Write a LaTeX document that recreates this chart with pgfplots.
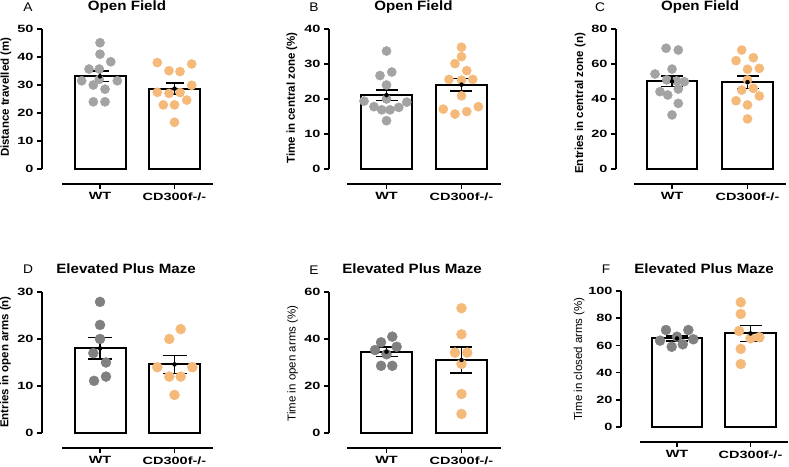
\documentclass[border=0pt]{standalone}
\usepackage{fontspec}
\setmainfont{Liberation Sans}
\newfontfamily\widefont{Liberation Sans}[FakeStretch=1.38]
\newfontfamily\titlefont{Liberation Sans}[FakeStretch=1.12]
\newfontfamily\letterfont{Liberation Sans}[FakeStretch=1.1]
\usepackage{pgfplots}
\pgfplotsset{compat=1.18}
\definecolor{wtgray}{RGB}{163,163,163}
\definecolor{wtdark}{RGB}{128,128,128}
\definecolor{koorange}{RGB}{245,186,122}
\pgfplotsset{
  every axis title shift=0pt,
  panel/.style={
    scale only axis, clip=false, anchor=south west,
    axis x line*=bottom, axis y line*=left,
    axis line style={-, line width=1.6pt, black},
    tick align=outside,
    major tick length=5pt,
    tick style={line width=1.6pt, black},
    xtick={0,1}, xticklabels={WT,CD300f-/-},
    /pgf/number format/assume math mode=true,
    ticklabel style={font=\widefont\bfseries\fontsize{10.5}{12}\selectfont},
    title style={font=\titlefont\bfseries\fontsize{13.5}{15}\selectfont, anchor=center},
    ylabel style={font=\bfseries\fontsize{11.5}{13}\selectfont, anchor=center},
  },
  bars/.style={ybar, bar width=#1, fill=white, draw=black, line width=2pt},
  errs/.style={only marks, mark=none, black, error bars/.cd, y dir=both, y explicit,
    error bar style={line width=1.5pt, black},
    error mark options={rotate=90, line width=1.5pt, mark size=#1, black}},
}
\begin{document}
\begin{tikzpicture}
\useasboundingbox (0,0) rectangle (789pt,466pt);
% ---------- A
\begin{axis}[panel, at={(42pt,282pt)}, width=170.5pt, height=155pt,
  xmin=-0.779, xmax=1.51, ymin=-5.357, ymax=50, ytick={0,10,...,50},
  x axis line style={shorten <=20pt}, y axis line style={shorten <=15pt},
  title={Open Field}, title style={at={(rel axis cs:0.4985,1.145)}},
  ylabel={Distance travelled (m)}, ylabel style={at={(rel axis cs:-0.211,0.56)}}]
\addplot[bars=0.685] coordinates {(0,33.1) (1,28.7)};
\addplot[only marks, mark=*, mark size=4.6pt, color=wtgray] coordinates {
(0,45.1) (0,41.0) (0.144,38.3) (-0.148,35.7) (-0.01,35.7) (-0.246,31.5)
(-0.01,32.0) (0.232,31.5) (-0.09,30.0) (0.067,28.5) (-0.09,24.0) (0.067,24.0)};
\addplot[only marks, mark=*, mark size=4.6pt, color=koorange] coordinates {
(0.769,38.0) (0.926,35.1) (1.074,34.8) (1.231,37.5) (1.231,29.9) (0.769,27.4)
(0.926,27.0) (1.074,27.3) (1.164,24.6) (0.850,22.9) (1.0,22.9) (1.0,16.7)};
\addplot[errs=9pt] coordinates {(0,33.1) +- (0,1.9) (1,28.7) +- (0,2.0)};
\end{axis}
% ---------- B
\begin{axis}[panel, at={(329pt,282pt)}, width=172pt, height=155pt,
  xmin=-0.767, xmax=1.527, ymin=-4.286, ymax=40, ytick={0,10,...,40},
  x axis line style={shorten <=18pt}, y axis line style={shorten <=15pt},
  title={Open Field}, title style={at={(rel axis cs:0.491,1.145)}},
  ylabel={Time in central zone (\%)}, ylabel style={at={(rel axis cs:-0.215,0.555)}}]
\addplot[bars=0.68] coordinates {(0,21.1) (1,24.1)};
\addplot[only marks, mark=*, mark size=4.6pt, color=wtgray] coordinates {
(0,33.7) (-0.087,26.7) (0.07,27.7) (0,24.0) (0,20.0) (-0.3,19.4)
(0.27,19.1) (-0.167,17.8) (-0.064,16.9) (0.047,16.9) (0.163,17.6) (0,13.8)};
\addplot[only marks, mark=*, mark size=4.6pt, color=koorange] coordinates {
(1,34.8) (1,32.1) (0.913,30.1) (1.07,28.1) (0.833,25.6) (1,25.4)
(1.15,25.6) (1,20.9) (0.757,17.1) (0.913,15.7) (1.07,16.4) (1.224,17.8)};
\addplot[errs=11pt] coordinates {(0,21.1) +- (0,1.5) (1,24.1) +- (0,1.8)};
\end{axis}
% ---------- C
\begin{axis}[panel, at={(616pt,282pt)}, width=169.5pt, height=155pt,
  xmin=-0.742, xmax=1.503, ymin=-8.571, ymax=80, ytick={0,20,...,80},
  x axis line style={shorten <=18pt}, y axis line style={shorten <=15pt},
  title={Open Field}, title style={at={(rel axis cs:0.496,1.145)}},
  ylabel={Entries in central zone (n)}, ylabel style={at={(rel axis cs:-0.212,0.52)}}]
\addplot[bars=0.67] coordinates {(0,50.1) (1,49.6)};
\addplot[only marks, mark=*, mark size=4.6pt, color=wtgray] coordinates {
(-0.079,69.0) (0.083,68.0) (-0.225,54.3) (0,57.1) (-0.07,50.9) (0.06,50.3)
(0.163,49.9) (0.083,45.7) (-0.159,44.2) (-0.057,42.3) (0.083,37.5) (0,30.9)};
\addplot[only marks, mark=*, mark size=4.6pt, color=koorange] coordinates {
(0.923,68.0) (0.848,61.9) (1.077,63.6) (1,57.0) (1.156,57.5) (1,50.9)
(0.923,45.1) (1.077,46.1) (1.156,41.7) (0.848,39.0) (1,36.6) (1,28.6)};
\addplot[errs=11pt] coordinates {(0,50.1) +- (0,3.1) (1,49.6) +- (0,3.5)};
\end{axis}
% ---------- D
\begin{axis}[panel, at={(42pt,18pt)}, width=170.5pt, height=156pt,
  xmin=-0.779, xmax=1.51, ymin=-3.191, ymax=30, ytick={0,10,...,30},
  x axis line style={shorten <=20pt}, y axis line style={shorten <=15pt},
  title={Elevated Plus Maze}, title style={at={(rel axis cs:0.493,1.147)}},
  ylabel={Entries in open arms (n)}, ylabel style={at={(rel axis cs:-0.214,0.551)}}]
\addplot[bars=0.685] coordinates {(0,18.0) (1,14.6)};
\addplot[only marks, mark=*, mark size=5pt, color=wtdark] coordinates {
(0,27.9) (0,23.0) (0,20.0) (-0.09,17.0) (0.08,15.0) (0.08,12.0) (-0.08,11.1)};
\addplot[only marks, mark=*, mark size=5pt, color=koorange] coordinates {
(1.083,22.1) (0.93,20.0) (0.769,14.0) (1.239,14.0) (0.93,12.0) (1.083,12.0) (1,8.1)};
\addplot[errs=12pt] coordinates {(0,18.0) +- (0,2.3) (1,14.6) +- (0,1.9)};
\end{axis}
% ---------- E
\begin{axis}[panel, at={(329pt,18pt)}, width=172pt, height=156pt,
  xmin=-0.767, xmax=1.527, ymin=-6.383, ymax=60, ytick={0,20,...,60},
  x axis line style={shorten <=18pt}, y axis line style={shorten <=15pt},
  title={Elevated Plus Maze}, title style={at={(rel axis cs:0.483,1.147)}},
  ylabel={Time in open arms (\%)}, ylabel style={font=\fontsize{11.5}{13}\selectfont, at={(rel axis cs:-0.212,0.542)}}]
\addplot[bars=0.68] coordinates {(0,34.6) (1,31.1)};
\addplot[only marks, mark=*, mark size=5pt, color=wtdark] coordinates {
(0.077,41.0) (-0.073,38.6) (0.136,36.7) (-0.153,35.3) (0,33.5) (-0.073,28.6) (0.077,28.6)};
\addplot[only marks, mark=*, mark size=5pt, color=koorange] coordinates {
(1,53.1) (1,42.0) (0.913,34.2) (1.077,34.2) (1,29.4) (1,16.6) (1,8.1)};
\addplot[errs=11pt] coordinates {(0,34.6) +- (0,2.0) (1,31.1) +- (0,5.6)};
\end{axis}
% ---------- F
\begin{axis}[panel, at={(621pt,24pt)}, width=166.5pt, height=151pt,
  xmin=-0.762, xmax=1.503, ymin=-11.029, ymax=100, ytick={0,20,...,100},
  x axis line style={shorten <=19pt}, y axis line style={shorten <=15pt},
  title={Elevated Plus Maze}, title style={at={(rel axis cs:0.4985,1.148)}},
  ylabel={Time in closed arms (\%)}, ylabel style={font=\fontsize{11.5}{13}\selectfont, at={(rel axis cs:-0.252,0.55)}}]
\addplot[bars=0.687] coordinates {(0,65.1) (1,68.8)};
\addplot[only marks, mark=*, mark size=5pt, color=wtdark] coordinates {
(-0.15,71.3) (0.154,71.3) (-0.231,63.5) (0,66.4) (0.222,64.5) (-0.072,59.0) (0.078,60.8)};
\addplot[only marks, mark=*, mark size=5pt, color=koorange] coordinates {
(0.867,91.7) (0.867,83.1) (0.844,70.6) (1.12,66.0) (1,65.2) (0.867,57.4) (0.867,46.3)};
\addplot[errs=11pt] coordinates {(0,65.1) +- (0,1.9) (1,68.8) +- (0,5.9)};
\end{axis}
% ---------- panel letters
\node[font=\letterfont\fontsize{12.5}{14}\selectfont] at (28pt,459pt) {A};
\node[font=\letterfont\fontsize{12.5}{14}\selectfont] at (314pt,459pt) {B};
\node[font=\letterfont\fontsize{12.5}{14}\selectfont] at (600pt,459pt) {C};
\node[font=\letterfont\fontsize{12.5}{14}\selectfont] at (28pt,197pt) {D};
\node[font=\letterfont\fontsize{12.5}{14}\selectfont] at (314pt,196pt) {E};
\node[font=\letterfont\fontsize{12.5}{14}\selectfont] at (606pt,197pt) {F};
\end{tikzpicture}
\end{document}
